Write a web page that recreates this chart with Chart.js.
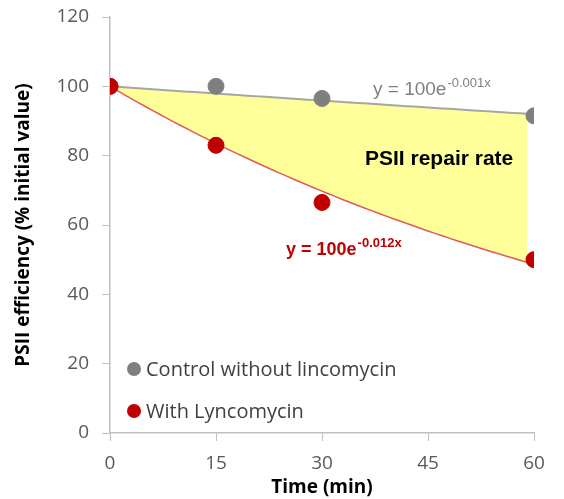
<!DOCTYPE html>
<html>
<head>
<meta charset="utf-8">
<script src="https://cdn.jsdelivr.net/npm/chart.js@4.4.1/dist/chart.umd.min.js"></script>
<style>
  html, body { margin: 0; padding: 0; background: #fff; }
  #wrap { width: 564px; height: 499px; }
</style>
</head>
<body>
<div id="wrap"><canvas id="psii" width="564" height="499"></canvas></div>
<script>
// measured points (time in min, % of initial PSII efficiency)
var timeMin = [0, 15, 30, 60];
var controlVals = [100, 100, 96.5, 91.5];
var lincoVals = [100, 83, 66.5, 50];
var xTicks = [0, 15, 30, 45, 60];
var yTicks = [0, 20, 40, 60, 80, 100, 120];

// exponential fits shown on the chart  y = A e^(-k x)
var fitA = 100;
var controlRate = 0.0014;   // label rounds it to 0.001
var lincoRate = 0.012;
var fillEnd = 59;           // yellow area stops just short of 60

var grey = '#7f7f7f', red = '#c00000';
var axisCol = '#bfbfbf', tickCol = '#595959';

function fit(rate, x){ return fitA * Math.exp(-rate * x); }

function toPoints(xs, ys){
  var out = [];
  for (var i = 0; i < xs.length; i++) out.push({x: xs[i], y: ys[i]});
  return out;
}

var extras = {
  id: 'extras',
  beforeDatasetsDraw: function(chart){
    var c = chart.ctx, sx = chart.scales.x, sy = chart.scales.y;
    var x, steps = 60;
    // yellow area between the two fits
    c.save();
    c.beginPath();
    for (x = 0; x <= steps; x++){
      var t = fillEnd * x / steps;
      var px = sx.getPixelForValue(t), py = sy.getPixelForValue(fit(controlRate, t));
      if (x == 0) c.moveTo(px, py); else c.lineTo(px, py);
    }
    for (x = steps; x >= 0; x--){
      var t2 = fillEnd * x / steps;
      c.lineTo(sx.getPixelForValue(t2), sy.getPixelForValue(fit(lincoRate, t2)));
    }
    c.closePath();
    c.fillStyle = '#ffff99';
    c.fill();

    // trend lines
    [[controlRate, '#a6a6a6', 2], [lincoRate, '#e05a5a', 1.5]].forEach(function(f){
      c.beginPath();
      for (var i = 0; i <= steps; i++){
        var tt = 60 * i / steps;
        var px2 = sx.getPixelForValue(tt), py2 = sy.getPixelForValue(fit(f[0], tt));
        if (i == 0) c.moveTo(px2, py2); else c.lineTo(px2, py2);
      }
      c.strokeStyle = f[1];
      c.lineWidth = f[2];
      c.stroke();
    });
    c.restore();
  },
  afterDraw: function(chart){
    var c = chart.ctx;
    c.save();
    c.textBaseline = 'alphabetic';
    c.textAlign = 'left';

    // equation labels
    c.fillStyle = grey;
    c.font = '19px "Liberation Sans"';
    c.fillText('y = 100e', 373, 95);
    var w = c.measureText('y = 100e').width;
    c.font = '13px "Liberation Sans"';
    c.fillText('-0.001x', 373 + w + 1, 87);

    c.fillStyle = red;
    c.font = 'bold 18px "Liberation Sans"';
    c.fillText('y = 100e', 286, 255);
    w = c.measureText('y = 100e').width;
    c.font = 'bold 13px "Liberation Sans"';
    c.fillText('-0.012x', 286 + w + 1, 247);

    c.fillStyle = '#000';
    c.font = 'bold 21px "Liberation Sans"';
    c.fillText('PSII repair rate', 365, 165);

    // legend inside plot, lower left
    var ds = chart.data.datasets;
    var rows = [369, 411];
    c.font = '20px "Open Sans"';
    for (var i = 0; i < ds.length; i++){
      c.beginPath();
      c.arc(134, rows[i], 7, 0, Math.PI * 2);
      c.fillStyle = ds[i].backgroundColor;
      c.fill();
      c.fillStyle = '#404040';
      c.textBaseline = 'middle';
      c.fillText(ds[i].label, 146, rows[i] + 1);
    }
    c.restore();
  }
};

var chart = new Chart(document.getElementById('psii'), {
  type: 'scatter',
  data: {
    datasets: [{
      label: 'Control without lincomycin',
      data: toPoints(timeMin, controlVals),
      backgroundColor: grey,
      borderColor: grey,
      pointRadius: 8,
      pointHoverRadius: 8,
      showLine: false,
      order: 1          // red dots sit on top of the grey ones
    }, {
      label: 'With Lyncomycin',
      data: toPoints(timeMin, lincoVals),
      backgroundColor: red,
      borderColor: red,
      pointRadius: 8,
      pointHoverRadius: 8,
      showLine: false,
      order: 0
    }]
  },
  options: {
    responsive: false,
    animation: false,
    layout: { padding: { top: 17, right: 30, left: 0, bottom: 0 } },
    plugins: { legend: { display: false }, tooltip: { enabled: false } },
    scales: {
      x: {
        type: 'linear', min: 0, max: 60,
        afterBuildTicks: function(s){ s.ticks = xTicks.map(function(v){ return {value: v}; }); },
        afterFit: function(s){ s.height = 66; },
        grid: { drawOnChartArea: false, drawTicks: true, tickLength: 8, color: axisCol },
        border: { color: axisCol, width: 1.5 },
        ticks: { color: tickCol, font: { family: 'Open Sans', size: 19 }, padding: 11, maxRotation: 0 },
        title: { display: true, text: 'Time (min)', color: '#000',
                 font: { family: 'Open Sans', size: 19, weight: 'bold' }, padding: { top: 0, bottom: 0 } }
      },
      y: {
        type: 'linear', min: 0, max: 120,
        afterBuildTicks: function(s){ s.ticks = yTicks.map(function(v){ return {value: v}; }); },
        afterFit: function(s){ s.width = 110; s.paddingTop = 0; s.paddingBottom = 0; },
        grid: { drawOnChartArea: false, drawTicks: true, tickLength: 8, color: axisCol },
        border: { color: axisCol, width: 1.5 },
        ticks: { color: tickCol, font: { family: 'Open Sans', size: 19 }, padding: 13 },
        title: { display: true, text: 'PSII efficiency (% initial value)', color: '#000',
                 font: { family: 'Open Sans', size: 19, weight: 'bold' }, padding: { top: 12, bottom: 0 } }
      }
    }
  },
  plugins: [extras]
});
</script>
</body>
</html>
